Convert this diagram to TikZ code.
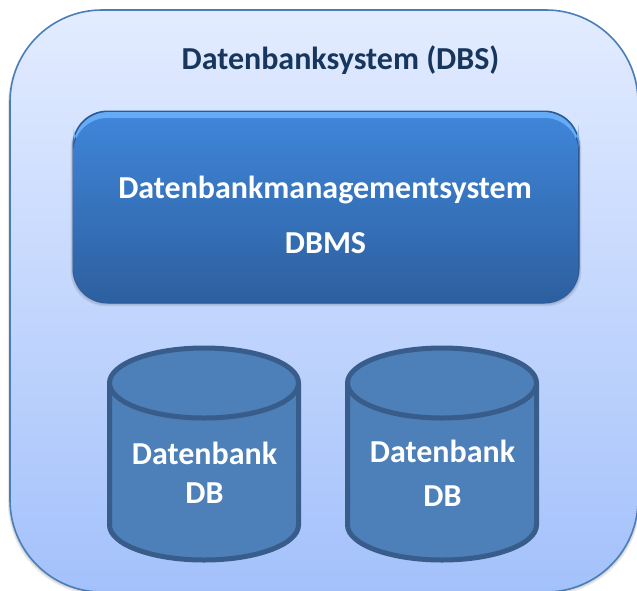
\documentclass[tikz,border=0pt]{standalone}
\usepackage{fontspec}
\setmainfont{Carlito}
\definecolor{paneltop}{HTML}{E3ECFF}
\definecolor{panelbot}{HTML}{A3C1FB}
\definecolor{panelline}{HTML}{4A7EBB}
\definecolor{boxtop}{HTML}{3F85D8}
\definecolor{boxbot}{HTML}{2D5F9F}
\definecolor{boxbevel}{HTML}{66ABF5}
\definecolor{boxedge}{HTML}{2A5A96}
\definecolor{cylfill}{HTML}{4D7FB9}
\definecolor{cylline}{HTML}{385D8A}
\definecolor{titlecol}{HTML}{17365D}
\tikzset{
  lab/.style={font=\fontsize{32}{34}\selectfont\bfseries,text=white,inner sep=0pt,anchor=base},
  cyl/.style={draw=cylline,line width=5pt,fill=cylfill,line join=round},
  softshadow/.style={fill=black,opacity=.07},
}
\newcommand{\cylshape}[1]{%
  \begin{scope}[xshift=#1pt]
    \draw[cyl] (-94.5,383) -- (-94.5,525) arc[start angle=180,end angle=0,x radius=94.5,y radius=35] -- (94.5,383);
    \draw[cyl] (0,383) ellipse[x radius=94.5,y radius=35];
  \end{scope}}
\begin{document}
\begin{tikzpicture}[x=1pt,y=-1pt]
\useasboundingbox (0,0) rectangle (637,590);
\begin{scope}
  \clip (0,0) rectangle (637,590);
  \foreach \d in {0,1,2,3} {
    \fill[softshadow,rounded corners=92pt] (10-\d*0.7,12) rectangle (638+\d*0.7,592+\d);
  }
  \shade[top color=paneltop,bottom color=panelbot,rounded corners=92pt] (10,10) rectangle (638,592);
  \draw[panelline,line width=1.6pt,rounded corners=92pt] (10,10) rectangle (638,592);
\end{scope}
\foreach \d in {0,1,2,3} {
  \fill[softshadow,rounded corners=35pt] (73-\d*0.8,113) rectangle (579+\d*0.8,303+\d*1.1);
}
\fill[boxedge,rounded corners=35pt] (72.5,110.5) rectangle (579.5,303.5);
\fill[boxbevel,rounded corners=35pt] (73.5,112) rectangle (578.5,160);
\shade[top color=boxtop,bottom color=boxbot,rounded corners=34pt] (73.5,118) rectangle (578.5,303);
\cylshape{204}
\cylshape{442}
\node[lab,text=titlecol] (dbs) at (340.5,69) {Datenbanksystem (DBS)};
\node[lab] (dbms1) at (325,198) {Datenbankmanagementsystem};
\node[lab] (dbms2) at (325.5,253) {DBMS};
\node[lab] (db1a) at (204.5,464) {Datenbank};
\node[lab] (db1b) at (204.5,503) {DB};
\node[lab] (db2a) at (442.5,462) {Datenbank};
\node[lab] (db2b) at (442.5,506) {DB};
\end{tikzpicture}
\end{document}
